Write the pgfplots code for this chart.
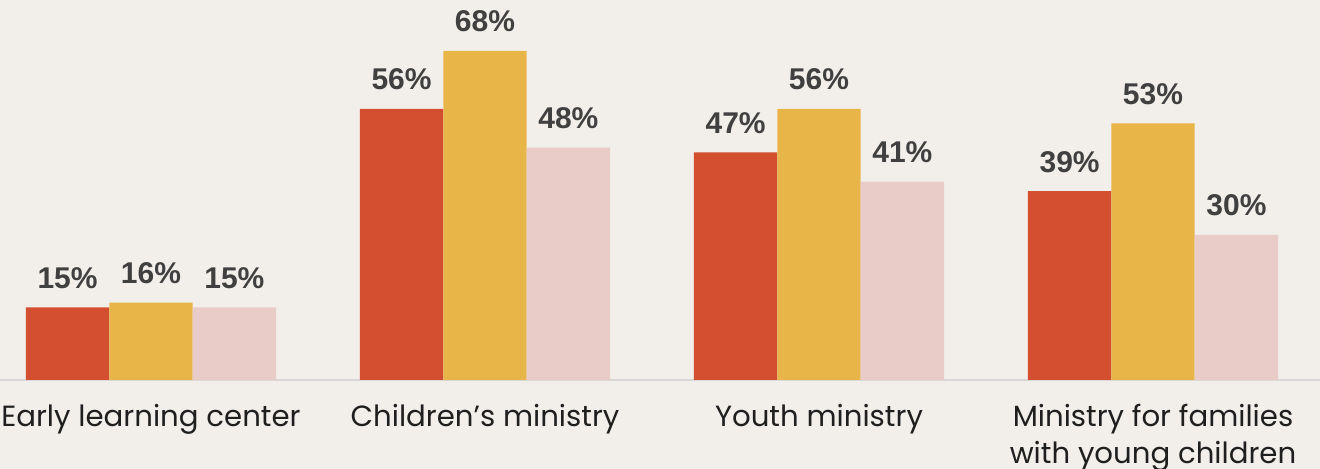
\documentclass[border=0pt]{standalone}
\usepackage{pgfplots}
\pgfplotsset{compat=1.18}
\usepackage{fontspec}
\setmainfont{Poppins}
\newfontfamily\numfont{Liberation Sans}
\definecolor{bgc}{HTML}{F2EFEB}
\definecolor{cred}{HTML}{D34F30}
\definecolor{cyel}{HTML}{E8B548}
\definecolor{cpink}{HTML}{E9CBC8}
\definecolor{axc}{HTML}{D9D6D6}
\definecolor{lblc}{HTML}{404040}
\begin{document}
\begin{tikzpicture}
\useasboundingbox (0,0) rectangle (660pt,234.5pt);
\fill[bgc] (0,0) rectangle (660pt,234.5pt);
\begin{axis}[
  at={(0pt,44.5pt)}, anchor=south west,
  scale only axis, width=660pt, height=190pt,
  xmin=-0.452, xmax=3.5, ymin=0, ymax=78.5,
  axis y line=none, axis x line*=bottom,
  axis line style={axc, line width=1pt},
  xtick={0,1,2,3},
  xticklabels={Early learning center, Children\symbol{39}s ministry, Youth ministry, {Ministry for families\\with young children}},
  xticklabel style={align=center, font=\fontsize{14.6pt}{18.5pt}\selectfont, text=black!88, yshift=-8.5pt},
  major tick length=0pt,
  ybar, bar width=41.7pt,
  clip=false,
  /pgf/number format/assume math mode=true,
  nodes near coords={\pgfmathprintnumber{\pgfplotspointmeta}\%},
  every node near coord/.append style={font=\numfont\bfseries\fontsize{15pt}{18pt}\selectfont, text=lblc, anchor=base, yshift=9.5pt},
]
\addplot[fill=cred, draw=none, bar shift=-41.7pt] coordinates {(0,15) (1,56) (2,47) (3,39)};
\addplot[fill=cyel, draw=none, bar shift=0pt] coordinates {(0,16) (1,68) (2,56) (3,53)};
\addplot[fill=cpink, draw=none, bar shift=41.7pt] coordinates {(0,15) (1,48) (2,41) (3,30)};
\end{axis}
\end{tikzpicture}
\end{document}
